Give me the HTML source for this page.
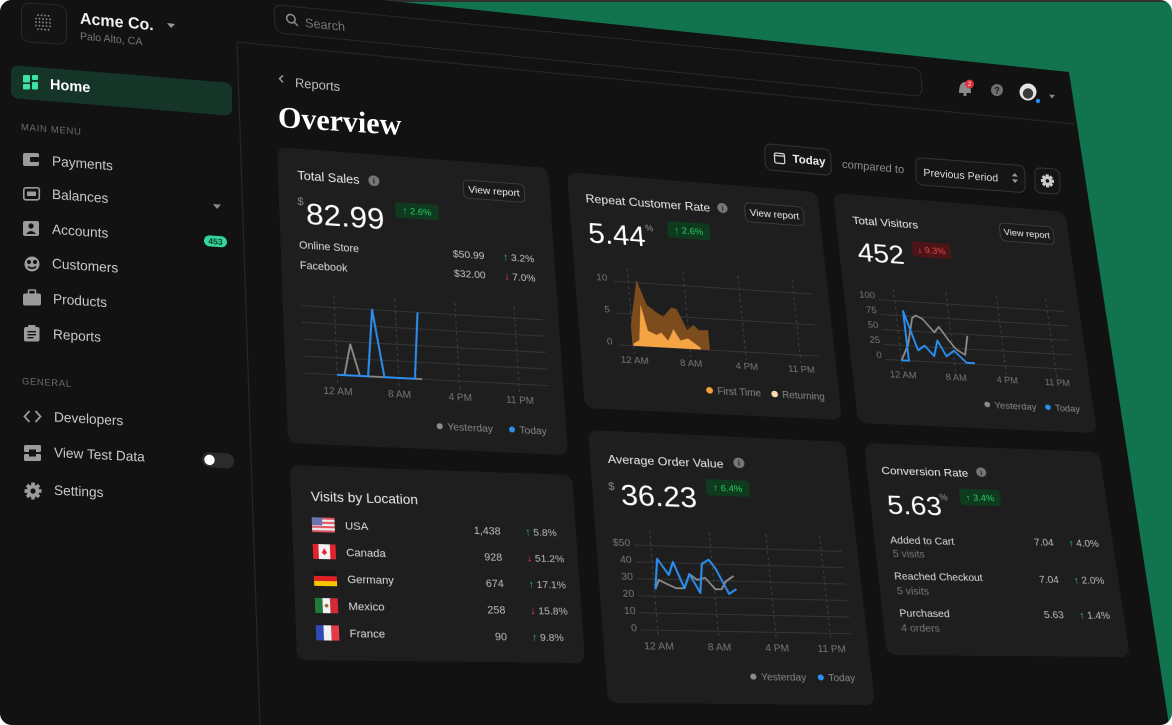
<!DOCTYPE html>
<html><head><meta charset="utf-8">
<style>
html,body{margin:0;padding:0;background:#ffffff;}
#frame{position:relative;width:1172px;height:725px;overflow:hidden;border-radius:12px;background:#12734f;}
svg text{font-family:"Liberation Sans","DejaVu Sans",sans-serif;}
.card{position:absolute;left:0;top:0;transform-origin:0 0 0;overflow:visible;}
#bg{position:absolute;left:0;top:0;}
</style></head>
<body>
<div id="frame">
<svg id="bg" width="1172" height="725" viewBox="0 0 1172 725">
  <rect x="0" y="0" width="1172" height="2" fill="#2f2f2f"/>
  <polygon points="0,0 382,0 1069,72 1169,725 0,725" fill="#121212"/>
  <line x1="237" y1="42" x2="260" y2="725" stroke="#262626" stroke-width="1.2"/>
  <line x1="237" y1="42" x2="1074" y2="124" stroke="#262626" stroke-width="1.2"/>

  <!-- search -->
  <g transform="matrix(1,0.099,0.07,1,273,4)">
    <rect x="0.5" y="0.5" width="647" height="28" rx="8" fill="#131313" stroke="#2a2a2a"/>
    <circle cx="17" cy="13" r="4.2" fill="none" stroke="#8a8a8a" stroke-width="1.6"/>
    <line x1="20" y1="16" x2="23.5" y2="19.5" stroke="#8a8a8a" stroke-width="1.6"/>
    <text x="31" y="20" font-size="12.6" fill="#777">Search</text>
  </g>

  <!-- breadcrumb -->
  <g transform="matrix(1,0.09,0,1,278,81)">
    <polyline points="5,-6 1.5,-2.5 5,1" fill="none" stroke="#aaa" stroke-width="1.3"/>
    <text x="17" y="4.5" font-size="12.9" fill="#bdbdbd">Reports</text>
  </g>
  <g transform="matrix(1,0.064,0,1,278,127)">
    <text x="0" y="0" font-size="30" font-weight="bold" fill="#ffffff" style="font-family:'Liberation Serif','DejaVu Serif',serif">Overview</text>
  </g>

  <!-- controls -->
  <g transform="matrix(1,0.09,0.04,1,764,143)">
    <rect x="0.5" y="0.5" width="66" height="26" rx="6" fill="#151515" stroke="#343434"/>
    <rect x="10" y="9" width="10" height="10" rx="1.5" fill="none" stroke="#cfcfcf" stroke-width="1.3"/>
    <line x1="10" y1="11.5" x2="20" y2="11.5" stroke="#cfcfcf" stroke-width="1.3"/>
    <text x="28" y="17" font-size="11.5" font-weight="bold" fill="#eeeeee">Today</text>
  </g>
  <g transform="matrix(1,0.09,0,1,842,163.7)">
    <text x="0" y="4" font-size="11.2" fill="#8a8a8a">compared to</text>
  </g>
  <g transform="matrix(1,0.075,0.03,1,915,157)">
    <rect x="0.5" y="0.5" width="109" height="27" rx="6" fill="#151515" stroke="#343434"/>
    <text x="8" y="18.4" font-size="10.6" fill="#dddddd">Previous Period</text>
    <polygon points="96.5,12 99.5,8.5 102.5,12" fill="#999"/>
    <polygon points="96.5,15 99.5,18.5 102.5,15" fill="#999"/>
  </g>
  <g transform="matrix(1,0.07,0.03,1,1034,167)">
    <rect x="0.5" y="0.5" width="25" height="25" rx="6" fill="#151515" stroke="#343434"/>
    <g transform="translate(13,13)" fill="#cccccc">
      <rect x="-1.6" y="-6.5" width="3.2" height="13"/>
      <rect x="-1.6" y="-6.5" width="3.2" height="13" transform="rotate(45)"/>
      <rect x="-1.6" y="-6.5" width="3.2" height="13" transform="rotate(90)"/>
      <rect x="-1.6" y="-6.5" width="3.2" height="13" transform="rotate(135)"/>
      <circle r="4.6"/>
      <circle r="1.8" fill="#151515"/>
    </g>
  </g>

  <!-- top right icons -->
  <path d="M959,93 Q959,82 965,82 Q971,82 971,93 Z" fill="#8a8a8a"/>
  <circle cx="965" cy="94.5" r="1.6" fill="#8a8a8a"/>
  <circle cx="969.5" cy="84" r="4.4" fill="#e0323e"/>
  <text x="969.5" y="86.2" font-size="6" fill="#fff" text-anchor="middle">2</text>
  <circle cx="997" cy="90" r="6" fill="#6f6f6f"/>
  <text x="997" y="93.5" font-size="9" font-weight="bold" fill="#151515" text-anchor="middle">?</text>
  <circle cx="1028" cy="92" r="8.5" fill="#e4e4e4"/>
  <circle cx="1028" cy="93.5" r="5.2" fill="#3a3a3a"/>
  <circle cx="1038" cy="101" r="2.6" fill="#2a8ff0" stroke="#111" stroke-width="0.8"/>
  <polygon points="1049,94.5 1055,95 1052,98.5" fill="#888"/>

  <!-- sidebar -->
  <g transform="matrix(1,0.065,0,1,21,2)">
    <rect x="0.5" y="0.5" width="45" height="39" rx="8" fill="#141414" stroke="#2a2a2a"/>
    <g fill="#8a8a8a">
      <circle cx="17" cy="12" r="0.9"/><circle cx="20.5" cy="12" r="0.9"/><circle cx="24" cy="12" r="0.9"/><circle cx="27.5" cy="12" r="0.9"/>
      <circle cx="15" cy="15.5" r="0.9"/><circle cx="18.5" cy="15.5" r="0.9"/><circle cx="22" cy="15.5" r="0.9"/><circle cx="25.5" cy="15.5" r="0.9"/><circle cx="29" cy="15.5" r="0.9"/>
      <circle cx="15" cy="19" r="0.9"/><circle cx="18.5" cy="19" r="0.9"/><circle cx="22" cy="19" r="0.9"/><circle cx="25.5" cy="19" r="0.9"/><circle cx="29" cy="19" r="0.9"/>
      <circle cx="15" cy="22.5" r="0.9"/><circle cx="18.5" cy="22.5" r="0.9"/><circle cx="22" cy="22.5" r="0.9"/><circle cx="25.5" cy="22.5" r="0.9"/><circle cx="29" cy="22.5" r="0.9"/>
      <circle cx="17" cy="26" r="0.9"/><circle cx="20.5" cy="26" r="0.9"/><circle cx="24" cy="26" r="0.9"/><circle cx="27.5" cy="26" r="0.9"/>
    </g>
  </g>
  <g transform="matrix(1,0.09,0,1,80,23.6)"><text font-size="16" font-weight="bold" fill="#f2f2f2">Acme Co.</text></g>
  <polygon points="167,23 175,24 171,28" fill="#999"/>
  <g transform="matrix(1,0.09,0,1,80,39.5)"><text font-size="10.6" fill="#777">Palo Alto, CA</text></g>

  <g transform="matrix(1,0.081,0,1,11,65)"><rect width="221" height="33" rx="7" fill="#143528"/></g>
  <g fill="#3de3a6">
    <rect x="23" y="75" width="7" height="7.5" rx="1"/>
    <rect x="32" y="75" width="6" height="5" rx="1"/>
    <rect x="23" y="84" width="7" height="5.5" rx="1"/>
    <rect x="32" y="82" width="6" height="7.5" rx="1"/>
  </g>
  <g transform="matrix(1,0.083,0,1,50,89)"><text font-size="14.5" font-weight="bold" fill="#ffffff">Home</text></g>

  <g transform="matrix(1,0.08,0,1,21,130)"><text font-size="9.5" letter-spacing="0.7" fill="#6b6b6b">MAIN MENU</text></g>

  <g fill="#9b9b9b">
    <!-- payments -->
    <rect x="23" y="153" width="16" height="13" rx="2"/>
    <rect x="30" y="157" width="9" height="5" rx="1" fill="#121212"/>
    <!-- balances -->
    <rect x="23.8" y="187.8" width="15.5" height="12" rx="2" fill="none" stroke="#9b9b9b" stroke-width="1.6"/>
    <rect x="27" y="191.5" width="9" height="4.5" rx="0.8"/>
    <!-- accounts -->
    <rect x="23" y="221" width="16" height="15" rx="2"/>
    <circle cx="31" cy="226" r="2.6" fill="#121212"/>
    <path d="M26,234 Q31,228 36,234 Z" fill="#121212"/>
    <!-- customers -->
    <circle cx="32" cy="264" r="7.5"/>
    <circle cx="29" cy="262" r="2" fill="#121212"/>
    <circle cx="35" cy="262" r="2" fill="#121212"/>
    <path d="M28,266.5 Q32,270 36,266.5" fill="none" stroke="#121212" stroke-width="1.5"/>
    <!-- products -->
    <rect x="28.5" y="290" width="7" height="4.5" rx="1" fill="none" stroke="#9b9b9b" stroke-width="1.6"/>
    <rect x="23" y="293.5" width="18" height="12" rx="2"/>
    <!-- reports -->
    <rect x="24" y="327" width="15.5" height="14.5" rx="2"/>
    <rect x="28" y="325" width="7.5" height="3.5" rx="1"/>
    <rect x="27.5" y="331" width="8.5" height="1.4" fill="#121212"/>
    <rect x="27.5" y="334" width="8.5" height="1.4" fill="#121212"/>
    <rect x="27.5" y="337" width="6" height="1.4" fill="#121212"/>
    <!-- developers -->
    <polyline points="29.5,411 24.5,416.5 29.5,422" fill="none" stroke="#9b9b9b" stroke-width="1.8"/>
    <polyline points="35.5,411 40.5,416.5 35.5,422" fill="none" stroke="#9b9b9b" stroke-width="1.8"/>
    <!-- view test data -->
    <rect x="24" y="445" width="17" height="7" rx="1.5"/>
    <rect x="24" y="454" width="17" height="7" rx="1.5"/>
    <rect x="29" y="449.5" width="7" height="2.5" fill="#121212"/>
    <rect x="29" y="454" width="7" height="2.5" fill="#121212"/>
  </g>
  <!-- settings gear -->
  <g transform="translate(33,491)" fill="#9b9b9b">
    <rect x="-1.8" y="-8.5" width="3.6" height="17"/>
    <rect x="-1.8" y="-8.5" width="3.6" height="17" transform="rotate(45)"/>
    <rect x="-1.8" y="-8.5" width="3.6" height="17" transform="rotate(90)"/>
    <rect x="-1.8" y="-8.5" width="3.6" height="17" transform="rotate(135)"/>
    <circle r="6.3"/>
    <circle r="2.6" fill="#121212"/>
  </g>

  <g font-size="13.7" fill="#c9c9c9">
    <g transform="matrix(1,0.078,0,1,52,165.6)"><text>Payments</text></g>
    <g transform="matrix(1,0.075,0,1,52,198.8)"><text>Balances</text></g>
    <g transform="matrix(1,0.072,0,1,52,233.8)"><text>Accounts</text></g>
    <g transform="matrix(1,0.07,0,1,52,268)"><text>Customers</text></g>
    <g transform="matrix(1,0.067,0,1,53,303.5)"><text>Products</text></g>
    <g transform="matrix(1,0.064,0,1,53,338.8)"><text>Reports</text></g>
    <g transform="matrix(1,0.056,0,1,54,421.5)"><text>Developers</text></g>
    <g transform="matrix(1,0.05,0,1,54,457)"><text>View Test Data</text></g>
    <g transform="matrix(1,0.048,0,1,54,494.7)"><text>Settings</text></g>
  </g>
  <g transform="matrix(1,0.055,0,1,22,384.2)"><text font-size="9.5" letter-spacing="0.6" fill="#6b6b6b">GENERAL</text></g>

  <polygon points="213,204 221,204.6 217,209" fill="#8a8a8a"/>
  <g transform="matrix(1,0.07,0,1,204,235)">
    <rect width="23" height="11" rx="5.5" fill="#35d69c"/>
    <text x="11.5" y="8.6" font-size="8.5" font-weight="bold" fill="#0b3b2a" text-anchor="middle">453</text>
  </g>
  <g transform="matrix(1,0.05,0,1,202,452)">
    <rect width="32" height="15" rx="7.5" fill="#2b2b2b"/>
    <circle cx="7.5" cy="7.5" r="5.2" fill="#ffffff"/>
  </g>
</svg>

<!-- Card 1: Total Sales -->
<svg class="card" id="c1" width="275" height="296" style="transform:matrix(0.9855,0.0764,0.0372,1,277,147)">
  <rect width="275" height="296" rx="9" fill="#1e1e1e"/>
  <text x="19" y="32" font-size="12.6" fill="#ececec">Total Sales</text>
  <circle cx="95" cy="27.5" r="5.5" fill="#777"/>
  <text x="95" y="30.5" font-size="8" font-weight="bold" fill="#1e1e1e" text-anchor="middle">i</text>
  <rect x="185.5" y="19.5" width="63" height="19" rx="5" fill="#1a1a1a" stroke="#3b3b3b"/>
  <text x="217" y="32.5" font-size="10.5" fill="#eeeeee" text-anchor="middle">View report</text>
  <text x="18" y="58" font-size="11" fill="#8a8a8a">$</text>
  <text x="26" y="77" font-size="31" fill="#ffffff">82.99</text>
  <rect x="115" y="48" width="44" height="16" rx="3" fill="#0e3a1d"/>
  <text x="137" y="59.5" font-size="9.5" fill="#2fcc66" text-anchor="middle">↑ 2.6%</text>
  <text x="18" y="102.6" font-size="10.6" fill="#dedede">Online Store</text>
  <text x="18" y="122.8" font-size="10.6" fill="#dedede">Facebook</text>
  <text x="203" y="100.8" font-size="10.5" fill="#c4c4c4" text-anchor="end">$50.99</text>
  <text x="203" y="120.8" font-size="10.5" fill="#c4c4c4" text-anchor="end">$32.00</text>
  <text x="222" y="100.8" font-size="10.5" fill="#c4c4c4"><tspan fill="#2fcc66">↑</tspan> 3.2%</text>
  <text x="222" y="120.8" font-size="10.5" fill="#c4c4c4"><tspan fill="#f0444f">↓</tspan> 7.0%</text>
  <g stroke="#363636" stroke-width="1">
    <line x1="18" y1="160" x2="259" y2="160"/>
    <line x1="18" y1="176.75" x2="259" y2="176.75"/>
    <line x1="18" y1="193.5" x2="259" y2="193.5"/>
    <line x1="18" y1="210.25" x2="259" y2="210.25"/>
    <line x1="18" y1="227" x2="259" y2="227"/>
  </g>
  <g stroke="#3e3e3e" stroke-width="1" stroke-dasharray="3 3">
    <line x1="50" y1="148" x2="50" y2="235"/>
    <line x1="110" y1="148" x2="110" y2="235"/>
    <line x1="170" y1="148" x2="170" y2="235"/>
    <line x1="230" y1="148" x2="230" y2="235"/>
  </g>
  <g font-size="10" fill="#777" text-anchor="middle">
    <text x="50" y="246.5">12 AM</text><text x="110" y="246.5">8 AM</text><text x="170" y="246.5">4 PM</text><text x="230" y="246.5">11 PM</text>
  </g>
  <polyline points="57,227 64,196 72,227 133,227" fill="none" stroke="#8c8c8c" stroke-width="1.8" stroke-linejoin="round"/>
  <polyline points="50,227 80,227 87,160 96,227 126,227 132,160" fill="none" stroke="#2a8ff0" stroke-width="2" stroke-linejoin="round"/>
  <circle cx="148" cy="273" r="3" fill="#8c8c8c"/>
  <text x="155.5" y="276.7" font-size="10.3" fill="#888">Yesterday</text>
  <circle cx="220" cy="273" r="3" fill="#2a8ff0"/>
  <text x="227.5" y="276.7" font-size="10.3" fill="#888">Today</text>
</svg>

<!-- Card 2: Repeat Customer Rate -->
<svg class="card" id="c2" width="250" height="237" style="transform:matrix(1,0.08,0.076,0.996,567,172)">
  <rect width="250" height="237" rx="9" fill="#1e1e1e"/>
  <text x="16" y="30" font-size="12" fill="#ececec">Repeat Customer Rate</text>
  <circle cx="151" cy="25" r="5.2" fill="#777"/>
  <text x="151" y="28" font-size="7.5" font-weight="bold" fill="#1e1e1e" text-anchor="middle">i</text>
  <rect x="173.5" y="17.5" width="60" height="20" rx="5" fill="#1a1a1a" stroke="#3b3b3b"/>
  <text x="203.5" y="30.8" font-size="10" fill="#eeeeee" text-anchor="middle">View report</text>
  <text x="16" y="71" font-size="28.5" fill="#ffffff">5.44</text>
  <text x="72" y="55" font-size="9" fill="#999">%</text>
  <rect x="94" y="43" width="42" height="17" rx="3" fill="#0e3a1d"/>
  <text x="115" y="55" font-size="9.3" fill="#2fcc66" text-anchor="middle">↑ 2.6%</text>
  <g stroke="#363636" stroke-width="1">
    <line x1="37" y1="109" x2="233" y2="109"/>
    <line x1="37" y1="141" x2="233" y2="141"/>
    <line x1="37" y1="173" x2="233" y2="173"/>
  </g>
  <g stroke="#3e3e3e" stroke-width="1" stroke-dasharray="3 3">
    <line x1="51" y1="95" x2="51" y2="181"/>
    <line x1="105.5" y1="95" x2="105.5" y2="181"/>
    <line x1="160" y1="95" x2="160" y2="181"/>
    <line x1="214.5" y1="95" x2="214.5" y2="181"/>
  </g>
  <g font-size="9.5" fill="#777" text-anchor="end">
    <text x="31" y="109">10</text><text x="31" y="141">5</text><text x="31" y="173">0</text>
  </g>
  <g font-size="9.5" fill="#777" text-anchor="middle">
    <text x="51" y="190.5">12 AM</text><text x="105.5" y="190.5">8 AM</text><text x="160" y="190.5">4 PM</text><text x="214.5" y="190.5">11 PM</text>
  </g>
  <polygon points="50,173 50,152.5 59,106 67,131 76,138 82,142 91,132 96,133.5 104.5,154 111,148.5 116,153.5 125,153 125,173" fill="#7d4c1d"/>
  <polygon points="51,173 51,171 57,167 61,131 66,157 74,160.7 79,158.3 85,166 91,154 97,165 104.5,162.5 116,171 116,173" fill="#f5a443"/>
  <circle cx="121" cy="213.6" r="3.3" fill="#f59e3f"/>
  <text x="128.5" y="217.2" font-size="9.8" fill="#888">First Time</text>
  <circle cx="185" cy="214" r="3.3" fill="#fcdcaa"/>
  <text x="192.5" y="217.6" font-size="9.8" fill="#888">Returning</text>
</svg>

<!-- Card 3: Total Visitors -->
<svg class="card" id="c3" width="232" height="231" style="transform:matrix(1,0.0819,0.108,0.996,833,193)">
  <rect width="232" height="231" rx="9" fill="#1e1e1e"/>
  <text x="16" y="30.5" font-size="11.3" fill="#ececec">Total Visitors</text>
  <rect x="161.5" y="17.5" width="55" height="19" rx="5" fill="#1a1a1a" stroke="#3b3b3b"/>
  <text x="189" y="30" font-size="9.4" fill="#eeeeee" text-anchor="middle">View report</text>
  <text x="17.5" y="68.5" font-size="27" fill="#ffffff">452</text>
  <rect x="71" y="44" width="38" height="16" rx="3" fill="#4d1518"/>
  <text x="90" y="55.3" font-size="9" fill="#f0444f" text-anchor="middle">↓ 9.3%</text>
  <g stroke="#363636" stroke-width="1">
    <line x1="33" y1="107" x2="217" y2="107"/>
    <line x1="33" y1="122" x2="217" y2="122"/>
    <line x1="33" y1="137" x2="217" y2="137"/>
    <line x1="33" y1="152" x2="217" y2="152"/>
    <line x1="33" y1="167" x2="217" y2="167"/>
  </g>
  <g stroke="#3e3e3e" stroke-width="1" stroke-dasharray="3 3">
    <line x1="48" y1="95" x2="48" y2="176"/>
    <line x1="99" y1="95" x2="99" y2="176"/>
    <line x1="149" y1="95" x2="149" y2="176"/>
    <line x1="199" y1="95" x2="199" y2="176"/>
  </g>
  <g font-size="9" fill="#777" text-anchor="end">
    <text x="29.5" y="106">100</text><text x="29.5" y="121">75</text><text x="29.5" y="136">50</text><text x="29.5" y="151">25</text><text x="29.5" y="166">0</text>
  </g>
  <g font-size="9" fill="#777" text-anchor="middle">
    <text x="48" y="184.5">12 AM</text><text x="99" y="184.5">8 AM</text><text x="149" y="184.5">4 PM</text><text x="199" y="184.5">11 PM</text>
  </g>
  <polyline points="48,167 56,151 63,123.4 67,120.7 73,124 83,136.8 88,131 96,144 102.5,153 110.5,158 115,138.5" fill="none" stroke="#8c8c8c" stroke-width="1.7" stroke-linejoin="round"/>
  <polyline points="48,167 55,167 55,117 65,156 72,151 80,161 85,145 92,160.5 100,154.5 111,166 119,166" fill="none" stroke="#2a8ff0" stroke-width="1.9" stroke-linejoin="round"/>
  <circle cx="126" cy="207" r="2.8" fill="#8c8c8c"/>
  <text x="133" y="210.4" font-size="9.4" fill="#888">Yesterday</text>
  <circle cx="186" cy="207" r="2.8" fill="#2a8ff0"/>
  <text x="193" y="210.4" font-size="9.4" fill="#888">Today</text>
</svg>

<!-- Card 4: Visits by Location -->
<svg class="card" id="c4" width="282" height="195" style="transform:matrix(1,0.0355,0.0359,1,290,465)">
  <rect width="282" height="195" rx="9" fill="#1e1e1e"/>
  <text x="19" y="36" font-size="13.5" fill="#ececec">Visits by Location</text>
  <!-- USA -->
  <g transform="translate(19,52.5)">
    <rect width="22" height="15" rx="2" fill="#eeeeee"/>
    <rect y="0" width="22" height="2.1" fill="#e05564"/><rect y="4.3" width="22" height="2.1" fill="#e05564"/><rect y="8.6" width="22" height="2.1" fill="#e05564"/><rect y="12.9" width="22" height="2.1" fill="#e05564"/>
    <rect width="10" height="8" fill="#6a73b0"/>
  </g>
  <!-- Canada -->
  <g transform="translate(19,79.5)">
    <rect width="22" height="15" rx="2" fill="#f2f2f2"/>
    <rect width="5.5" height="15" fill="#e0242e"/><rect x="16.5" width="5.5" height="15" fill="#e0242e"/>
    <polygon points="11,4 13.5,8.5 11,11 8.5,8.5" fill="#e0242e"/>
  </g>
  <!-- Germany -->
  <g transform="translate(19,106.5)">
    <rect width="22" height="5" fill="#161616"/><rect y="5" width="22" height="5" fill="#dd1f26"/><rect y="10" width="22" height="5" fill="#f7c600"/>
  </g>
  <!-- Mexico -->
  <g transform="translate(19,133.5)">
    <rect width="7.3" height="15" fill="#1d7a3a"/><rect x="7.3" width="7.4" height="15" fill="#f2f2f2"/><rect x="14.7" width="7.3" height="15" fill="#d32a36"/>
    <circle cx="11" cy="7.5" r="1.8" fill="#9a6a30"/>
  </g>
  <!-- France -->
  <g transform="translate(19,160.5)">
    <rect width="7.3" height="15" fill="#2f49b5"/><rect x="7.3" width="7.4" height="15" fill="#f2f2f2"/><rect x="14.7" width="7.3" height="15" fill="#e43a45"/>
  </g>
  <g font-size="11" fill="#dedede">
    <text x="51" y="64">USA</text><text x="51" y="91">Canada</text><text x="51" y="118">Germany</text><text x="51" y="145">Mexico</text><text x="51" y="172">France</text>
  </g>
  <g font-size="10.8" fill="#bdbdbd" text-anchor="end">
    <text x="205" y="65">1,438</text><text x="205" y="92">928</text><text x="205" y="119">674</text><text x="205" y="146">258</text><text x="205" y="173">90</text>
  </g>
  <g font-size="10.5" fill="#bdbdbd">
    <text x="230" y="65"><tspan fill="#2fcc66">↑</tspan> 5.8%</text>
    <text x="230" y="92"><tspan fill="#f0444f">↓</tspan> 51.2%</text>
    <text x="230" y="119"><tspan fill="#2fcc66">↑</tspan> 17.1%</text>
    <text x="230" y="146"><tspan fill="#f0444f">↓</tspan> 15.8%</text>
    <text x="230" y="173"><tspan fill="#2fcc66">↑</tspan> 9.8%</text>
  </g>
</svg>

<!-- Card 5: Average Order Value -->
<svg class="card" id="c5" width="257" height="273" style="transform:matrix(1,0.0467,0.0733,1,588,430)">
  <rect width="257" height="273" rx="9" fill="#1e1e1e"/>
  <text x="17" y="33.5" font-size="12.2" fill="#ececec">Average Order Value</text>
  <circle cx="146" cy="27.5" r="5.5" fill="#777"/>
  <text x="146" y="30.5" font-size="8" font-weight="bold" fill="#1e1e1e" text-anchor="middle">i</text>
  <text x="15.5" y="61" font-size="11" fill="#8a8a8a">$</text>
  <text x="27" y="76" font-size="29.5" fill="#ffffff">36.23</text>
  <rect x="111" y="46" width="43" height="17" rx="3" fill="#0e3a1d"/>
  <text x="132.5" y="58" font-size="9.5" fill="#2fcc66" text-anchor="middle">↑ 6.4%</text>
  <g stroke="#363636" stroke-width="1">
    <line x1="36" y1="116.7" x2="241" y2="116.7"/>
    <line x1="36" y1="133.7" x2="241" y2="133.7"/>
    <line x1="36" y1="150.6" x2="241" y2="150.6"/>
    <line x1="36" y1="167.6" x2="241" y2="167.6"/>
    <line x1="36" y1="184.5" x2="241" y2="184.5"/>
    <line x1="36" y1="201.5" x2="241" y2="201.5"/>
  </g>
  <g stroke="#3e3e3e" stroke-width="1" stroke-dasharray="3 3">
    <line x1="52" y1="101" x2="52" y2="206"/>
    <line x1="110" y1="101" x2="110" y2="206"/>
    <line x1="166" y1="101" x2="166" y2="206"/>
    <line x1="220" y1="101" x2="220" y2="206"/>
  </g>
  <g font-size="10" fill="#777" text-anchor="end">
    <text x="32.5" y="118">$50</text><text x="32.5" y="135">40</text><text x="32.5" y="152">30</text><text x="32.5" y="169">20</text><text x="32.5" y="186">10</text><text x="32.5" y="203">0</text>
  </g>
  <g font-size="10" fill="#777" text-anchor="middle">
    <text x="52" y="220.5">12 AM</text><text x="110" y="220.5">8 AM</text><text x="166" y="220.5">4 PM</text><text x="220" y="220.5">11 PM</text>
  </g>
  <polyline points="53,160.6 57,151.3 65,155.4 73,159.2 81,159 87,144.5 94,150.3 102,148 111,159.3 117,159.1 122,150.9 130,145.4" fill="none" stroke="#8c8c8c" stroke-width="1.8" stroke-linejoin="round"/>
  <polyline points="53,160.6 57,130 67,146 72,132.8 81,159 87,144.5 96,163.4 100,133.8 107,129.4 113,138.5 124,163.7 131.5,158.6" fill="none" stroke="#2a8ff0" stroke-width="2" stroke-linejoin="round"/>
  <circle cx="140" cy="246" r="3" fill="#8c8c8c"/>
  <text x="147.5" y="249.5" font-size="10" fill="#888">Yesterday</text>
  <circle cx="206" cy="246" r="3" fill="#2a8ff0"/>
  <text x="213.5" y="249.5" font-size="10" fill="#888">Today</text>
</svg>

<!-- Card 6: Conversion Rate -->
<svg class="card" id="c6" width="235" height="212" style="transform:matrix(1,0.0383,0.1085,1,864,443)">
  <rect width="235" height="212" rx="9" fill="#1e1e1e"/>
  <text x="14" y="31.5" font-size="11.4" fill="#ececec">Conversion Rate</text>
  <circle cx="112" cy="26" r="5" fill="#777"/>
  <text x="112" y="28.8" font-size="7.5" font-weight="bold" fill="#1e1e1e" text-anchor="middle">i</text>
  <text x="16" y="72" font-size="27" fill="#ffffff">5.63</text>
  <text x="67.5" y="56.5" font-size="9" fill="#999">%</text>
  <rect x="87.5" y="44" width="40" height="17" rx="3" fill="#0e3a1d"/>
  <text x="107.5" y="55.8" font-size="9.2" fill="#2fcc66" text-anchor="middle">↑ 3.4%</text>
  <g font-size="10" fill="#dedede">
    <text x="15" y="102">Added to Cart</text>
    <text x="15" y="138">Reached Checkout</text>
    <text x="16" y="174.5">Purchased</text>
  </g>
  <g font-size="10" fill="#777">
    <text x="16" y="115.5">5 visits</text>
    <text x="16" y="152.5">5 visits</text>
    <text x="16" y="189">4 orders</text>
  </g>
  <g font-size="10" fill="#bdbdbd" text-anchor="end">
    <text x="175" y="100.5">7.04</text>
    <text x="175" y="138.3">7.04</text>
    <text x="175" y="174.2">5.63</text>
  </g>
  <g font-size="10" fill="#bdbdbd">
    <text x="190" y="100.5"><tspan fill="#2fcc66">↑</tspan> 4.0%</text>
    <text x="190" y="138.3"><tspan fill="#2fcc66">↑</tspan> 2.0%</text>
    <text x="190.5" y="174.2"><tspan fill="#2fcc66">↑</tspan> 1.4%</text>
  </g>
</svg>
</div>
<script>
(function(){
  function homog(id,w,h,q){
    var el=document.getElementById(id); if(!el) return;
    var x0=q[0],y0=q[1],x1=q[2],y1=q[3],x2=q[4],y2=q[5],x3=q[6],y3=q[7];
    var sx=x0-x1+x2-x3, sy=y0-y1+y2-y3;
    var a,b,c,d,e,f,g,hh;
    if(Math.abs(sx)<1e-9&&Math.abs(sy)<1e-9){
      a=x1-x0;b=x2-x1;c=x0;d=y1-y0;e=y2-y1;f=y0;g=0;hh=0;
    } else {
      var dx1=x1-x2,dx2=x3-x2,dy1=y1-y2,dy2=y3-y2;
      var den=dx1*dy2-dx2*dy1;
      g=(sx*dy2-dx2*sy)/den;
      hh=(dx1*sy-sx*dy1)/den;
      a=x1-x0+g*x1;b=x3-x0+hh*x3;c=x0;
      d=y1-y0+g*y1;e=y3-y0+hh*y3;f=y0;
    }
    var A=a/w,B=b/h,D=d/w,E=e/h,G=g/w,H=hh/h;
    el.style.transform='matrix3d('+[A,D,0,G,B,E,0,H,0,0,1,0,c,f,0,1].join(',')+')';
  }
  homog('c1',275,296,[277,147,548,168,568,455,288,443]);
  homog('c2',250,237,[567,172,817,192,842,420,585,408]);
  homog('c3',232,231,[833,193,1065,212,1097,433,858,423]);
  homog('c4',282,195,[290,465,572,475,585,663,297,660]);
  homog('c5',257,273,[588,430,845,442,875,705,608,703]);
  homog('c6',235,212,[864,443,1099,452,1130,657,887,655]);
})();
</script>
</body></html>
